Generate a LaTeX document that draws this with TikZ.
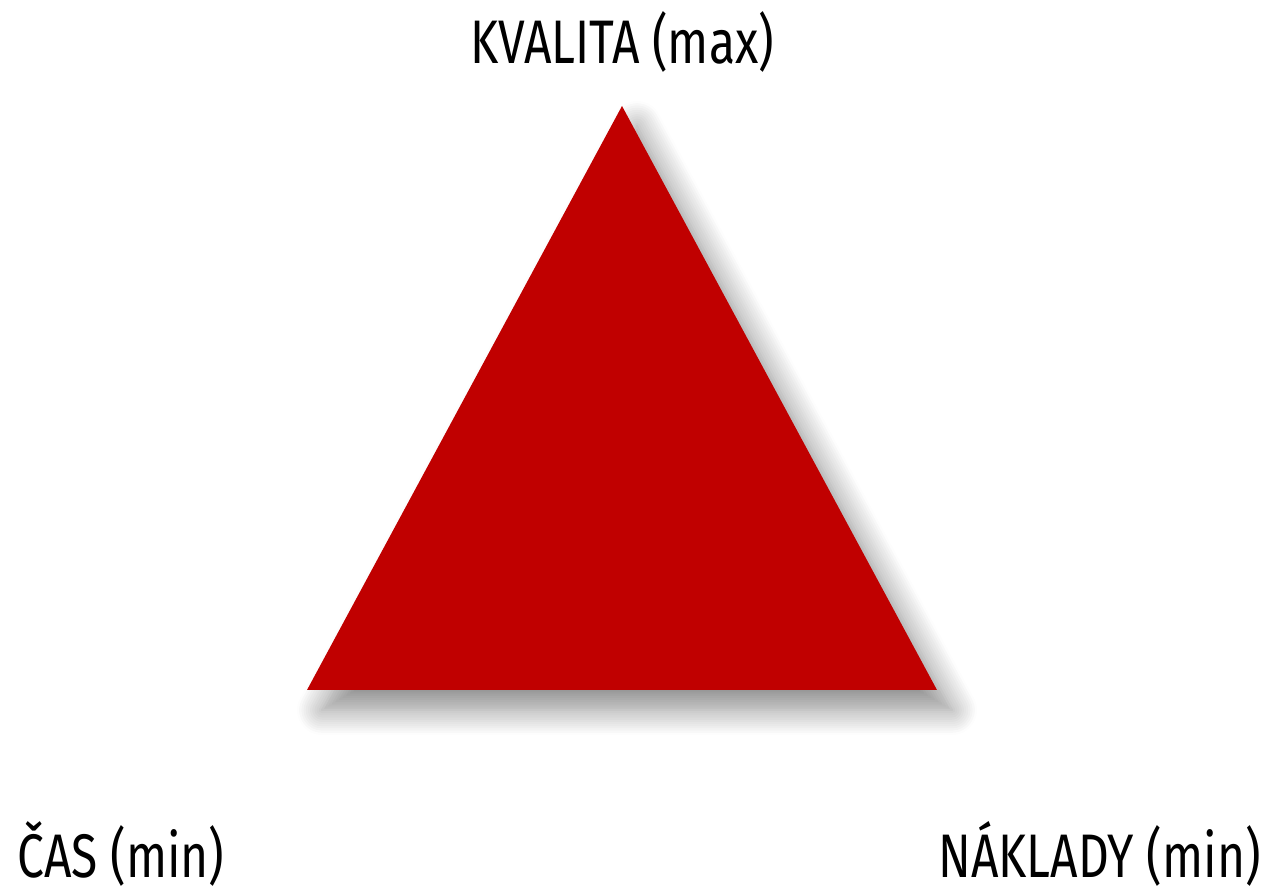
\documentclass[tikz,border=0pt]{standalone}
\usepackage{fontspec}
\setmainfont{Fira Sans}[FakeStretch=0.78]
\usepackage{tikz}
\usetikzlibrary{shadows.blur}
\definecolor{TriangleRed}{RGB}{192,0,0}

\begin{document}
\begin{tikzpicture}[label text/.style={font=\fontsize{35}{40}\selectfont, inner sep=0pt}]
      \useasboundingbox (0,0) rectangle (25.38,17.9);
      \coordinate (top) at (12.44,15.78);
      \coordinate (left) at (6.14,4.1);
      \coordinate (right) at (18.74,4.1);
      \fill[TriangleRed, blur shadow={shadow xshift=0.3cm, shadow yshift=-0.4cm, shadow blur radius=0.5cm, shadow blur steps=12, shadow opacity=45}] (top) -- (right) -- (left) -- cycle;
      \node[label text] (kvalita) at (12.44,17.06) {KVALITA (max)};
      \node[label text, anchor=base west] (cas) at (0.34,0.36) {ČAS (min)};
      \node[label text, anchor=base east] (naklady) at (25.22,0.36) {NÁKLADY (min)};
    \end{tikzpicture}
\end{document}
